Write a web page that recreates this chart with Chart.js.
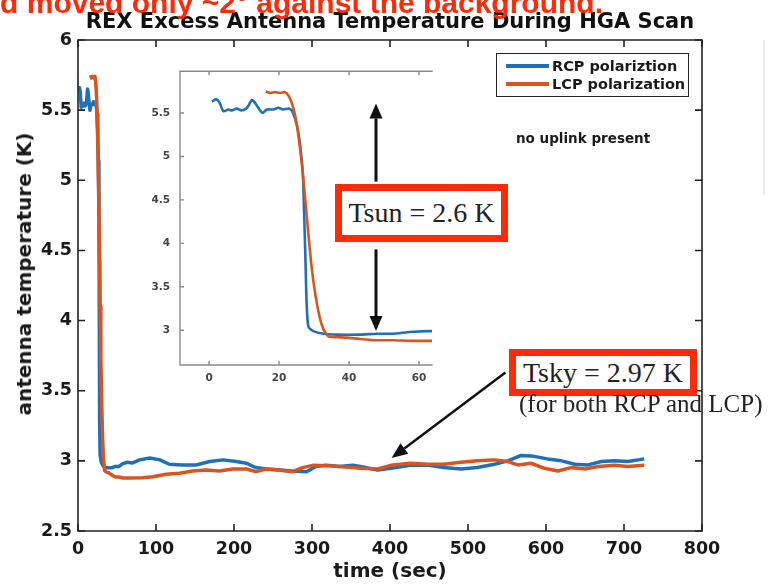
<!DOCTYPE html>
<html>
<head>
<meta charset="utf-8">
<script src="https://cdn.jsdelivr.net/npm/chart.js@4.4.1/dist/chart.umd.min.js"></script>
<style>
  html, body { margin: 0; padding: 0; background: #fff; }
  body { width: 769px; height: 584px; position: relative; overflow: hidden; font-family: "DejaVu Sans", sans-serif; }
  #mainWrap { position: absolute; left: 0; top: 0; width: 769px; height: 584px; }
  #insetWrap { position: absolute; left: 140px; top: 55px; width: 300px; height: 340px; }
  .abs { position: absolute; white-space: nowrap; }
  #headline { right: 166px; top: -12px; font: bold 30px/30px "Liberation Sans", sans-serif; color: #ff2a0a; }
  #yTitle { left: 24px; top: 274px; transform: translate(-50%, -50%) rotate(-90deg); font: bold 20px "DejaVu Sans", sans-serif; color: #1a1a1a; }
  #legend { left: 496px; top: 53px; width: 191px; height: 42px; border: 1.5px solid #222; background: #fff; }
  .legRow { position: absolute; left: 9px; height: 18px; font: bold 14.5px/18px "DejaVu Sans", sans-serif; color: #1a1a1a; }
  .legRow i { position: absolute; left: 0; top: 7px; width: 43px; height: 4px; }
  .legRow span { position: absolute; left: 46px; top: 0; white-space: nowrap; }
  #uplink { left: 516px; top: 129px; font: bold 13.5px/18px "DejaVu Sans", sans-serif; color: #1a1a1a; }
  .redbox { position: absolute; border: 7px solid #ff2a0a; background: #fff; text-align: center; font-family: "Liberation Serif", serif; font-size: 28px; color: #222; white-space: nowrap; }
  #tsun { left: 335px; top: 184px; width: 159px; height: 44px; line-height: 44px; }
  #tsky { left: 509px; top: 349px; width: 174px; height: 33px; line-height: 33px; }
  #tskyNote { left: 519px; top: 391px; font: 25px/25px "Liberation Serif", serif; color: #222; }
  #edge { left: 763px; top: 40px; width: 2px; height: 155px; background: #ececec; }
</style>
</head>
<body>
<div id="mainWrap"><canvas id="mainChart"></canvas></div>
<div id="insetWrap"><canvas id="insetChart"></canvas></div>

<div class="abs" id="headline">d moved only ~2° against the background.</div>
<div class="abs" id="yTitle">antenna temperature (K)</div>
<div class="abs" id="legend">
  <div class="legRow" style="top:3px"><i style="background:#1f6fba"></i><span>RCP polariztion</span></div>
  <div class="legRow" style="top:21px"><i style="background:#d9541e"></i><span>LCP polarization</span></div>
</div>
<div class="abs" id="uplink">no uplink present</div>
<div class="redbox" id="tsun">Tsun = 2.6 K</div>
<div class="redbox" id="tsky">Tsky = 2.97 K</div>
<div class="abs" id="tskyNote">(for both RCP and LCP)</div>
<div class="abs" id="edge"></div>

<script>
const RCP_COLOR = "#1f6fba";
const LCP_COLOR = "#d9541e";

// RCP polarization, time in sec and antenna temperature in K
const rcpTime = [
  0.8, 2.0, 3.0, 4.1, 5.5, 6.5, 7.9, 9.3, 10.6, 11.2, 12.2, 13.1, 14.4, 15.3, 16.5, 18.4, 19.8, 21.2, 23.0, 23.9,
  25.1, 26.0, 26.8, 27.1, 27.5, 27.9, 28.4, 29.8, 32.7, 36.5, 43.1, 47.9, 52.6, 57.4, 63.1,
  70, 79, 92, 105, 117, 134, 152, 169, 186, 203, 216, 228, 241, 258, 275, 293, 305, 318, 335, 352,
  362, 384, 401, 426, 448, 469, 491, 512, 534, 551, 568, 585, 602, 620, 637, 654, 671, 688, 705, 718, 726,
];
const rcpTemp = [
  5.63, 5.66, 5.62, 5.52, 5.54, 5.53, 5.55, 5.53, 5.55, 5.58, 5.65, 5.62, 5.54, 5.50, 5.54, 5.54, 5.56, 5.54, 5.55, 5.51,
  5.36, 5.14, 4.80, 4.43, 3.88, 3.29, 3.04, 2.99, 2.96, 2.95, 2.95, 2.96, 2.96, 2.98, 2.99,
  2.985, 3.007, 3.02, 3.007, 2.976, 2.971, 2.971, 2.995, 3.007, 2.995, 2.983, 2.952, 2.942, 2.935, 2.928, 2.923, 2.96, 2.968, 2.96, 2.968,
  2.96, 2.935, 2.947, 2.968, 2.971, 2.952, 2.942, 2.952, 2.976, 3.0, 3.039, 3.032, 3.014, 3.0, 2.976, 2.971, 2.995, 3.0, 2.995, 3.007, 3.014,
];

// LCP polarization
const lcpTime = [
  16.2, 17.4, 18.9, 20.3, 21.7, 22.7, 23.6, 24.6, 25.5, 26.5, 27.4, 28.4, 29.3, 30.3, 31.5, 32.7, 34.1, 36.5, 39.3, 43.1,
  47.9, 52.6, 57.4, 63.1,
  83, 96, 113, 130, 147, 164, 181, 199, 216, 228, 241, 258, 275, 288, 301, 318, 335, 352,
  362, 384, 401, 426, 448, 469, 491, 512, 534, 551, 564, 581, 598, 615, 632, 650, 667, 688, 705, 726,
];
const lcpTemp = [
  5.75, 5.73, 5.74, 5.73, 5.74, 5.70, 5.62, 5.47, 5.25, 4.92, 4.54, 4.10, 3.73, 3.43, 3.17, 3.01, 2.93, 2.92, 2.915, 2.90,
  2.885, 2.885, 2.878, 2.878,
  2.88, 2.887, 2.904, 2.911, 2.928, 2.935, 2.928, 2.942, 2.942, 2.923, 2.942, 2.935, 2.923, 2.952, 2.968, 2.966, 2.96, 2.952,
  2.947, 2.942, 2.968, 2.983, 2.976, 2.976, 2.99, 3.0, 3.007, 2.995, 2.971, 2.983, 2.947, 2.928, 2.952, 2.942, 2.96, 2.968, 2.96, 2.968,
];

// axis ticks
const mainXTicks = [0, 100, 200, 300, 400, 500, 600, 700, 800];
const mainYTicks = [2.5, 3, 3.5, 4, 4.5, 5, 5.5, 6];
const insetXTicks = [0, 20, 40, 60];
const insetYTicks = [3, 3.5, 4, 4.5, 5, 5.5];

// annotation arrows, in data units of their chart
const tskyArrow = { from: [548, 3.63], to: [402, 3.02] };
const tsunArrowUp = { from: [47.7, 4.71], to: [47.7, 5.61] };
const tsunArrowDown = { from: [47.7, 3.93], to: [47.7, 2.99] };

const pts = (xs, ys) => xs.map((x, i) => ({ x, y: ys[i] }));
const plainNum = (v) => String(Math.round(v * 10) / 10);

function drawArrow(ctx, x1, y1, x2, y2, width, headLen, headWidth) {
  const ang = Math.atan2(y2 - y1, x2 - x1);
  const bx = x2 - Math.cos(ang) * headLen;
  const by = y2 - Math.sin(ang) * headLen;
  ctx.lineWidth = width;
  ctx.beginPath();
  ctx.moveTo(x1, y1);
  ctx.lineTo(bx, by);
  ctx.stroke();
  const nx = -Math.sin(ang) * headWidth / 2;
  const ny = Math.cos(ang) * headWidth / 2;
  ctx.beginPath();
  ctx.moveTo(x2, y2);
  ctx.lineTo(bx + nx, by + ny);
  ctx.lineTo(bx - nx, by - ny);
  ctx.closePath();
  ctx.fill();
}

const boxTicks = {
  id: "boxTicks",
  afterDraw(chart, args, opts) {
    const { ctx, chartArea: a, scales } = chart;
    const { x, y } = scales;
    ctx.save();
    ctx.strokeStyle = opts.color;
    ctx.lineWidth = opts.width;
    ctx.lineCap = "square";
    ctx.beginPath();
    const s = opts.sides;
    if (s.includes("t")) { ctx.moveTo(a.left, a.top); ctx.lineTo(a.right, a.top); }
    if (s.includes("r")) { ctx.moveTo(a.right, a.top); ctx.lineTo(a.right, a.bottom); }
    if (s.includes("b")) { ctx.moveTo(a.left, a.bottom); ctx.lineTo(a.right, a.bottom); }
    if (s.includes("l")) { ctx.moveTo(a.left, a.top); ctx.lineTo(a.left, a.bottom); }
    ctx.stroke();

    ctx.lineCap = "butt";
    ctx.beginPath();
    const L = opts.tickLen;
    opts.xTicks.forEach((v) => {
      const px = x.getPixelForValue(v);
      if (s.includes("b")) { ctx.moveTo(px, a.bottom); ctx.lineTo(px, a.bottom - L); }
      if (s.includes("t")) { ctx.moveTo(px, a.top); ctx.lineTo(px, a.top + L); }
    });
    opts.yTicks.forEach((v) => {
      const py = y.getPixelForValue(v);
      if (s.includes("l")) { ctx.moveTo(a.left, py); ctx.lineTo(a.left + L, py); }
      if (s.includes("r")) { ctx.moveTo(a.right, py); ctx.lineTo(a.right - L, py); }
    });
    ctx.stroke();

    ctx.strokeStyle = "#111";
    ctx.fillStyle = "#111";
    (opts.arrows || []).forEach((ar) => {
      drawArrow(
        ctx,
        x.getPixelForValue(ar.from[0]), y.getPixelForValue(ar.from[1]),
        x.getPixelForValue(ar.to[0]), y.getPixelForValue(ar.to[1]),
        opts.arrowWidth, opts.headLen, opts.headWidth
      );
    });
    ctx.restore();
  },
};

const tickFont = { family: "DejaVu Sans", weight: "bold", size: 17.5 };
const insetTickFont = { family: "DejaVu Sans", weight: "bold", size: 10.5 };

new Chart(document.getElementById("mainChart"), {
  type: "line",
  data: {
    datasets: [
      { label: "RCP polariztion", data: pts(rcpTime, rcpTemp), borderColor: RCP_COLOR, borderWidth: 3.5, order: 2 },
      { label: "LCP polarization", data: pts(lcpTime, lcpTemp), borderColor: LCP_COLOR, borderWidth: 3.5, order: 1 },
    ],
  },
  options: {
    responsive: true,
    maintainAspectRatio: false,
    animation: false,
    parsing: false,
    elements: { point: { radius: 0 }, line: { tension: 0, borderJoinStyle: "round" } },
    layout: { padding: { left: 0, right: 67, top: 0, bottom: 0 } },
    plugins: {
      legend: { display: false },
      tooltip: { enabled: false },
      title: {
        display: true,
        fullSize: false,
        text: "REX Excess Antenna Temperature During HGA Scan",
        color: "#111",
        font: { family: "DejaVu Sans", weight: "bold", size: 21, lineHeight: 1.2 },
        padding: { top: 10, bottom: 4.8 },
      },
      boxTicks: {
        color: "#222", width: 1.6, tickLen: 7, sides: "trbl",
        xTicks: mainXTicks, yTicks: mainYTicks,
        arrows: [tskyArrow], arrowWidth: 2.5, headLen: 16, headWidth: 13,
      },
    },
    scales: {
      x: {
        type: "linear",
        min: 0,
        max: 800,
        afterBuildTicks: (scale) => { scale.ticks = mainXTicks.map((value) => ({ value })); },
        grid: { display: false, drawTicks: false },
        border: { display: false },
        ticks: { font: tickFont, color: "#1a1a1a", padding: 8, maxRotation: 0, callback: plainNum },
        title: {
          display: true,
          text: "time (sec)",
          color: "#1a1a1a",
          font: { family: "DejaVu Sans", weight: "bold", size: 20, lineHeight: 1.2 },
          padding: { top: 0, bottom: 0 },
        },
        afterFit: (scale) => { scale.height = 53; },
      },
      y: {
        type: "linear",
        min: 2.5,
        max: 6,
        afterBuildTicks: (scale) => { scale.ticks = mainYTicks.map((value) => ({ value })); },
        grid: { display: false, drawTicks: false },
        border: { display: false },
        ticks: { font: tickFont, color: "#1a1a1a", padding: 6, callback: plainNum },
        afterFit: (scale) => { scale.width = 78; },
      },
    },
  },
  plugins: [boxTicks],
});

new Chart(document.getElementById("insetChart"), {
  type: "line",
  data: {
    datasets: [
      { data: pts(rcpTime, rcpTemp), borderColor: RCP_COLOR, borderWidth: 2.6, order: 2 },
      { data: pts(lcpTime, lcpTemp), borderColor: LCP_COLOR, borderWidth: 2.6, order: 1 },
    ],
  },
  options: {
    responsive: true,
    maintainAspectRatio: false,
    animation: false,
    parsing: false,
    elements: { point: { radius: 0 }, line: { tension: 0.2, borderJoinStyle: "round" } },
    layout: { padding: { left: 0, right: 8, top: 5, bottom: 0 } },
    plugins: {
      legend: { display: false },
      tooltip: { enabled: false },
      boxTicks: {
        color: "#8a8a8a", width: 1.4, tickLen: 4, sides: "tbl",
        xTicks: insetXTicks, yTicks: insetYTicks,
        arrows: [tsunArrowUp, tsunArrowDown], arrowWidth: 3, headLen: 15, headWidth: 13,
      },
    },
    scales: {
      x: {
        type: "linear",
        min: -8.3,
        max: 63.7,
        afterBuildTicks: (scale) => { scale.ticks = insetXTicks.map((value) => ({ value })); },
        grid: { display: false, drawTicks: false },
        border: { display: false },
        ticks: { font: insetTickFont, color: "#444", padding: 7, maxRotation: 0, callback: plainNum },
        afterFit: (scale) => { scale.height = 30; },
      },
      y: {
        type: "linear",
        min: 2.6,
        max: 5.98,
        afterBuildTicks: (scale) => { scale.ticks = insetYTicks.map((value) => ({ value })); },
        grid: { display: false, drawTicks: false },
        border: { display: false },
        ticks: { font: insetTickFont, color: "#444", padding: 10, callback: plainNum },
        afterFit: (scale) => { scale.width = 40; },
      },
    },
  },
  plugins: [boxTicks],
});
</script>
</body>
</html>
